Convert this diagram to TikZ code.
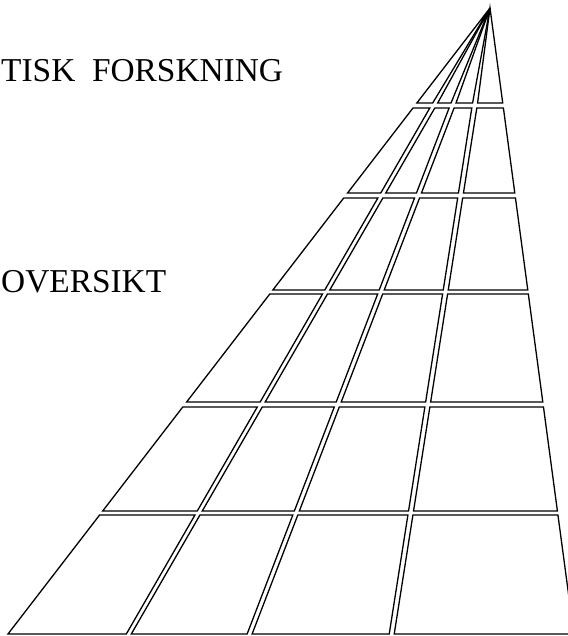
\documentclass[tikz,border=0pt]{standalone}
\usepackage{fontspec}
\setmainfont{Liberation Serif}

\begin{document}
\begin{tikzpicture}[
    x=1bp, y=-1bp,
    tile/.style={draw=black, line width=1.3bp, line join=miter},
    title/.style={font=\fontsize{33.5}{40}\selectfont, inner sep=0pt, anchor=base west}
  ]
  \useasboundingbox (0,0) rectangle (568,636);
  \clip (0,0) rectangle (568,636);

  % Title lines at the left margin
  \node[title] (forskning) at (1,82) {TISK~~FORSKNING};
  \node[title] (oversikt) at (1,292) {OVERSIKT};

  % Column slopes from the apex (490,8), row limits
  \def\slopes{{-0.770,-0.577,-0.384,-0.157,0.134}}
  \def\rowtop{{8,108,198,294,407,515}}
  \def\rowbot{{103,193,290,402,511,634}}

  % Tiles of the perspective floor
  \foreach \r in {0,...,5} {
    \foreach \c in {0,...,3} {
      \pgfmathsetmacro\sl{\slopes[\c]}
      \pgfmathsetmacro\sr{\slopes[\c+1]}
      \pgfmathsetmacro\gl{(\c>0)*2.5}
      \pgfmathsetmacro\gr{(\c<3)*2.5}
      \pgfmathsetmacro\yt{\rowtop[\r]}
      \pgfmathsetmacro\yb{\rowbot[\r]}
      \pgfmathsetmacro\xlt{490+\sl*(\yt-8)+\gl}
      \pgfmathsetmacro\xrt{490+\sr*(\yt-8)-\gr}
      \pgfmathsetmacro\xlb{490+\sl*(\yb-8)+\gl}
      \pgfmathsetmacro\xrb{490+\sr*(\yb-8)-\gr}
      \ifnum\r=0
        \draw[tile] (490,8) -- (\xrb,\yb) -- (\xlb,\yb) -- cycle;
      \else
        \draw[tile] (\xlt,\yt) -- (\xrt,\yt) -- (\xrb,\yb) -- (\xlb,\yb) -- cycle;
      \fi
    }
  }
\end{tikzpicture}
\end{document}
